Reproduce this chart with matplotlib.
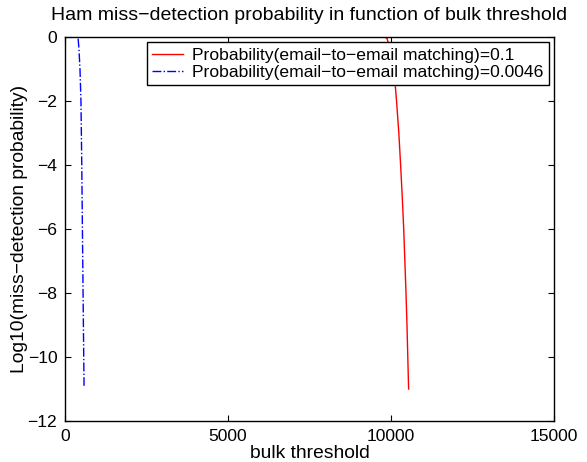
import matplotlib
matplotlib.use("Agg")
import matplotlib.pyplot as plt

plt.rcParams['font.family'] = ['Liberation Sans', 'DejaVu Sans']
plt.rcParams['axes.unicode_minus'] = True

# Red series: p = 0.1
red_x = [0, 9800, 9880, 9920, 9980, 10050, 10080, 10130, 10170, 10240, 10295, 10345, 10390, 10425, 10460, 10490, 10515, 10540]
red_y = [0, 0, -0.05, -0.2, -0.5, -0.85, -1.0, -1.5, -2.0, -3.0, -4.0, -5.0, -6.0, -7.0, -8.0, -9.0, -10.0, -11.0]

# Blue series: p = 0.0046
blue_x = [0, 400, 430, 460, 490, 515, 535, 555, 575, 585]
blue_y = [0, 0, -0.4, -1.0, -2.0, -4.0, -6.0, -8.0, -10.0, -10.9]

labels = ["Probability(email\u2212to\u2212email matching)=0.1",
          "Probability(email\u2212to\u2212email matching)=0.0046"]

fig = plt.figure(figsize=(5.87, 4.62), dpi=100)
ax = fig.add_axes([0.1107, 0.0887, 0.8331, 0.8312])
ax.plot(red_x, red_y, color='red', lw=1.0, label=labels[0])
ax.plot(blue_x, blue_y, color='blue', lw=1.0, ls='-.', label=labels[1])

ax.set_xlim(0, 15000)
ax.set_ylim(-12, 0)
ax.set_xticks([0, 5000, 10000, 15000])
ax.set_yticks([-12, -10, -8, -6, -4, -2, 0])
ax.tick_params(direction='in', top=True, right=True, labelsize=12.6, length=4, pad=5.5)
for s in ax.spines.values():
    s.set_linewidth(1.0)
ax.set_title("Ham miss\u2212detection probability in function of bulk threshold", fontsize=14, pad=12)
ax.set_xlabel("bulk threshold", fontsize=13.9, labelpad=1)
ax.set_ylabel("Log10(miss\u2212detection probability)", fontsize=13.9, labelpad=0)

leg = ax.legend(loc='upper right', fontsize=12.6, frameon=True, fancybox=False,
                edgecolor='black', framealpha=1, borderaxespad=0.3,
                handlelength=1.8, borderpad=0.3, labelspacing=0.1, handletextpad=0.5)
leg.get_frame().set_linewidth(1.0)

fig.savefig("out.png", dpi=100)
